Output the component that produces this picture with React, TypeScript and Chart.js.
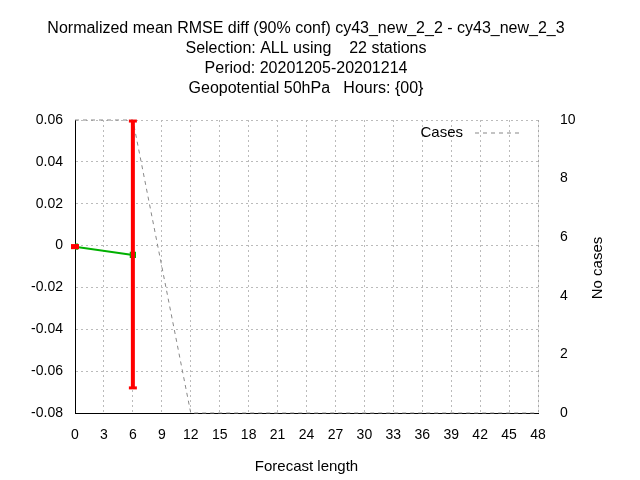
import React, { useEffect, useRef } from "react";
import { Chart, registerables } from "chart.js";
Chart.register(...registerables);

const titleLines = [
  "Normalized mean RMSE diff (90% conf) cy43_new_2_2 - cy43_new_2_3",
  "Selection: ALL using    22 stations",
  "Period: 20201205-20201214",
  "Geopotential 50hPa   Hours: {00}",
];
const diffX = [0, 6];
const diffY = [-0.0005, -0.0045];
const errLow = [-0.001, -0.068];
const errHigh = [0.0, 0.0595];
const casesX = [0, 6, 12, 15, 18, 21, 24, 27, 30, 33, 36, 39, 42, 45, 48];
const casesY = [10, 10, 0, 0, 0, 0, 0, 0, 0, 0, 0, 0, 0, 0, 0];
const FONT = "'Liberation Sans', Arial, sans-serif";

export default function App() {
  const ref = useRef<HTMLCanvasElement>(null);
  useEffect(() => {
    const deco = {
      id: "deco",
      afterDatasetsDraw(c: any) {
        const ctx = c.ctx;
        const x = c.scales.x, y = c.scales.y;
        ctx.save();
        ctx.strokeStyle = "#ff0000";
        diffX.forEach((v, i) => {
          const px = x.getPixelForValue(v);
          const p1 = y.getPixelForValue(errLow[i]);
          const p2 = y.getPixelForValue(errHigh[i]);
          ctx.lineWidth = 4;
          ctx.beginPath(); ctx.moveTo(px, p1); ctx.lineTo(px, p2); ctx.stroke();
          ctx.lineWidth = 3;
          [p1, p2].forEach((p) => { ctx.beginPath(); ctx.moveTo(px - 4, p); ctx.lineTo(px + 4, p); ctx.stroke(); });
        });
        ctx.restore();
      },
      afterDraw(c: any) {
        const ctx = c.ctx;
        ctx.save();
        ctx.fillStyle = "#000";
        ctx.font = "16px " + FONT;
        ctx.textAlign = "center";
        ctx.textBaseline = "middle";
        titleLines.forEach((t, i) => ctx.fillText(t, 306, 29 + i * 20));
        ctx.font = "15px " + FONT;
        ctx.textAlign = "right";
        ctx.fillText("Cases", 463, 133);
        ctx.save();
        ctx.translate(598, 268);
        ctx.rotate(-Math.PI / 2);
        ctx.textAlign = "center";
        ctx.fillText("No cases", 0, 0);
        ctx.restore();
        ctx.strokeStyle = "#888";
        ctx.lineWidth = 1;
        ctx.setLineDash([4, 4]);
        ctx.beginPath(); ctx.moveTo(475, 133); ctx.lineTo(520, 133); ctx.stroke();
        ctx.restore();
      },
    };
    const chart = new Chart(ref.current!, {
      type: "line",
      data: {
        datasets: [
          {
            data: diffX.map((v, i) => ({ x: v, y: diffY[i] })),
            borderColor: "#00b000",
            backgroundColor: "#00b000",
            borderWidth: 2,
            pointStyle: "rect",
            pointRadius: 3,
            yAxisID: "y",
          },
          {
            data: casesX.map((v, i) => ({ x: v, y: casesY[i] })),
            borderColor: "#888",
            borderWidth: 1,
            borderDash: [4, 4],
            pointRadius: 0,
            yAxisID: "y2",
            clip: false as any,
          },
        ],
      },
      options: {
        animation: false,
        responsive: false,
        layout: { padding: { top: 120, left: 0, right: 0, bottom: 0 } },
        plugins: { legend: { display: false }, tooltip: { enabled: false } },
        scales: {
          x: {
            type: "linear", min: 0, max: 48,
            ticks: { stepSize: 3, padding: 14, color: "#000", font: { size: 14, family: FONT } },
            grid: { color: "#bbb", tickLength: 0 } as any,
            border: { dash: [2, 3], color: "#000" } as any,
            title: { display: true, text: "Forecast length", color: "#000", font: { size: 15, family: FONT } },
            afterFit: (s: any) => { s.height = 67; },
          },
          y: {
            min: -0.08, max: 0.06,
            ticks: { stepSize: 0.02, padding: 12, color: "#000", font: { size: 14, family: FONT },
              callback: (v: any) => (Math.abs(v) < 1e-9 ? "0" : Number(v).toFixed(2)) },
            grid: { color: "#bbb", tickLength: 0 } as any,
            border: { dash: [2, 3], color: "#000" } as any,
            afterFit: (s: any) => { s.width = 75; },
          },
          y2: {
            position: "right", min: 0, max: 10,
            ticks: { stepSize: 2, padding: 14, color: "#000", font: { size: 14, family: FONT } },
            grid: { display: false },
            afterFit: (s: any) => { s.width = 102; },
          },
        },
      },
      plugins: [deco],
    } as any);
    return () => chart.destroy();
  }, []);
  return (
    <div style={{ position: "fixed", left: 0, top: 0, width: 640, height: 480, background: "#fff" }}>
      <canvas ref={ref} width={640} height={480} />
    </div>
  );
}
